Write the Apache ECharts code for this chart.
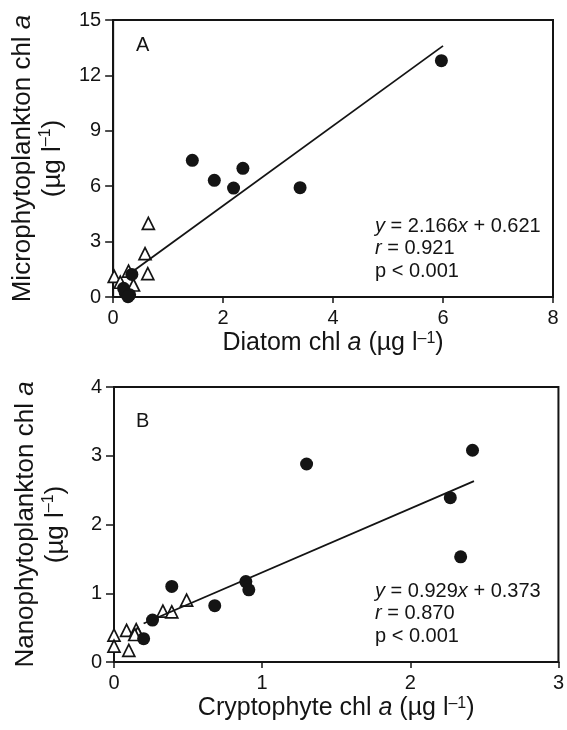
<!DOCTYPE html>
<html lang="en">
<head>
    <meta charset="UTF-8">
    <title>chl a scatter</title>
    <script src="https://cdn.jsdelivr.net/npm/echarts@6.0.0/dist/echarts.min.js"></script>
    <style>
        html, body { margin: 0; padding: 0; background: #fff; }
    </style>
</head>
<body>
<div id="main" style="width: 567px;height: 730px"></div>
</body>

<script>
    // panel A: diatom vs microphytoplankton chl a
    var aCircles = [[5.97, 12.8], [1.44, 7.40], [1.84, 6.32], [2.19, 5.90], [2.36, 6.97], [3.40, 5.92],
        [0.34, 1.22], [0.19, 0.47], [0.22, 0.22], [0.30, 0.12], [0.27, 0.02]];
    var aTriangles = [[0.64, 3.99], [0.58, 2.35], [0.63, 1.27], [0.02, 1.12], [0.28, 1.40],
        [0.37, 0.65], [0.13, 0.80]];
    var aFitLine = [[0.31, 1.29], [6.0, 13.6]];
    var aXTicks = [0, 2, 4, 6, 8];
    var aYTicks = [0, 3, 6, 9, 12, 15];
    var aStats = ['y = 2.166x + 0.621', 'r = 0.921', 'p < 0.001'];

    // panel B: cryptophyte vs nanophytoplankton chl a
    var bCircles = [[2.42, 3.08], [1.30, 2.88], [2.27, 2.39], [2.34, 1.53], [0.39, 1.10], [0.89, 1.17],
        [0.91, 1.05], [0.68, 0.82], [0.26, 0.61], [0.20, 0.34]];
    var bTriangles = [[0.49, 0.90], [0.33, 0.74], [0.39, 0.73], [0.0, 0.39], [0.0, 0.23], [0.085, 0.46],
        [0.10, 0.17], [0.15, 0.47], [0.16, 0.42], [0.14, 0.40]];
    var bFitLine = [[0.20, 0.56], [2.43, 2.63]];
    var bXTicks = [0, 1, 2, 3];
    var bYTicks = [0, 1, 2, 3, 4];
    var bStats = ['y = 0.929x + 0.373', 'r = 0.870', 'p < 0.001'];

    var FONT = '"Liberation Sans", Arial, Helvetica, sans-serif';
    var INK = '#141414';

    var myChart = echarts.init(document.getElementById('main'));

    function richFor(size) {
        return {
            n: {fontFamily: FONT, fontSize: size, color: INK},
            i: {fontFamily: FONT, fontSize: size, color: INK, fontStyle: 'italic'},
            s: {fontFamily: FONT, fontSize: Math.round(size * 0.62), color: INK, verticalAlign: 'top'}
        };
    }

    function xAxisFor(idx, ticks, name) {
        return {
            type: 'value',
            gridIndex: idx,
            min: ticks[0],
            max: ticks[ticks.length - 1],
            interval: ticks[1] - ticks[0],
            name: name,
            nameLocation: 'middle',
            nameGap: 34,
            nameTextStyle: {rich: richFor(25)},
            splitLine: {show: false},
            axisLine: {lineStyle: {color: INK, width: 2}},
            axisTick: {length: 6, lineStyle: {color: INK, width: 1.5}},
            axisLabel: {margin: 11, fontFamily: FONT, fontSize: 20, color: INK}
        };
    }

    function yAxisFor(idx, ticks, name) {
        return {
            type: 'value',
            gridIndex: idx,
            min: ticks[0],
            max: ticks[ticks.length - 1],
            interval: ticks[1] - ticks[0],
            name: name,
            nameLocation: 'middle',
            nameRotate: 90,
            nameGap: 43,
            nameTextStyle: {rich: richFor(26), lineHeight: 30, align: 'center'},
            splitLine: {show: false},
            axisLine: {lineStyle: {color: INK, width: 2}},
            axisTick: {length: 8, lineStyle: {color: INK, width: 1.5}},
            axisLabel: {margin: 12, fontFamily: FONT, fontSize: 20, color: INK}
        };
    }

    function scatterSeries(idx, data, kind) {
        var tri = kind === 'triangle';
        return {
            type: 'scatter',
            xAxisIndex: idx,
            yAxisIndex: idx,
            symbol: kind,
            symbolSize: tri ? 12 : 13,
            data: data,
            itemStyle: tri
                ? {color: '#fff', borderColor: INK, borderWidth: 1.7, opacity: 1}
                : {color: INK, opacity: 1},
            silent: true
        };
    }

    function lineSeries(idx, data) {
        return {
            type: 'line',
            xAxisIndex: idx,
            yAxisIndex: idx,
            data: data,
            symbol: 'none',
            lineStyle: {color: INK, width: 1.8},
            silent: true
        };
    }

    function statText(left, top, lines) {
        var out = [];
        for (var k = 0; k < lines.length; k++) {
            var t = lines[k];
            if (k === 0) {
                t = '{i|y}{n| = ' + t.slice(4, t.indexOf('x')) + '}{i|x}{n|' + t.slice(t.indexOf('x') + 1) + '}';
            } else if (k === 1) {
                t = '{i|r}{n|' + t.slice(1) + '}';
            } else {
                t = '{n|' + t + '}';
            }
            out.push({
                type: 'text',
                left: left,
                top: top + k * 22.5,
                style: {
                    text: t,
                    rich: {
                        n: {fontFamily: FONT, fontSize: 20, fill: INK},
                        i: {fontFamily: FONT, fontSize: 20, fill: INK, fontStyle: 'italic'}
                    }
                }
            });
        }
        return out;
    }

    var graphics = [
        {type: 'text', left: 136, top: 35, style: {text: 'A', font: '20px ' + FONT, fill: INK}},
        {type: 'text', left: 136, top: 411, style: {text: 'B', font: '20px ' + FONT, fill: INK}}
    ].concat(statText(375, 216, aStats)).concat(statText(375, 581, bStats));

    var option = {
        backgroundColor: '#fff',
        animation: false,
        grid: [
            {left: 113, top: 20, width: 440, height: 277, show: true, borderColor: INK, borderWidth: 2},
            {left: 114, top: 387, width: 446, height: 275, show: true, borderColor: INK, borderWidth: 2}
        ],
        xAxis: [
            xAxisFor(0, aXTicks, '{n|Diatom chl }{i|a}{n| (µg l}{s|–1}{n|)}'),
            xAxisFor(1, bXTicks, '{n|Cryptophyte chl }{i|a}{n| (µg l}{s|–1}{n|)}')
        ],
        yAxis: [
            yAxisFor(0, aYTicks, '{n|Microphytoplankton chl }{i|a}\n{n|(µg l}{s|–1}{n|)}'),
            yAxisFor(1, bYTicks, '{n|Nanophytoplankton chl }{i|a}\n{n|(µg l}{s|–1}{n|)}')
        ],
        series: [
            scatterSeries(0, aTriangles, 'triangle'),
            scatterSeries(0, aCircles, 'circle'),
            lineSeries(0, aFitLine),
            scatterSeries(1, bTriangles, 'triangle'),
            scatterSeries(1, bCircles, 'circle'),
            lineSeries(1, bFitLine)
        ],
        graphic: graphics
    };

    myChart.setOption(option);
</script>
</html>
